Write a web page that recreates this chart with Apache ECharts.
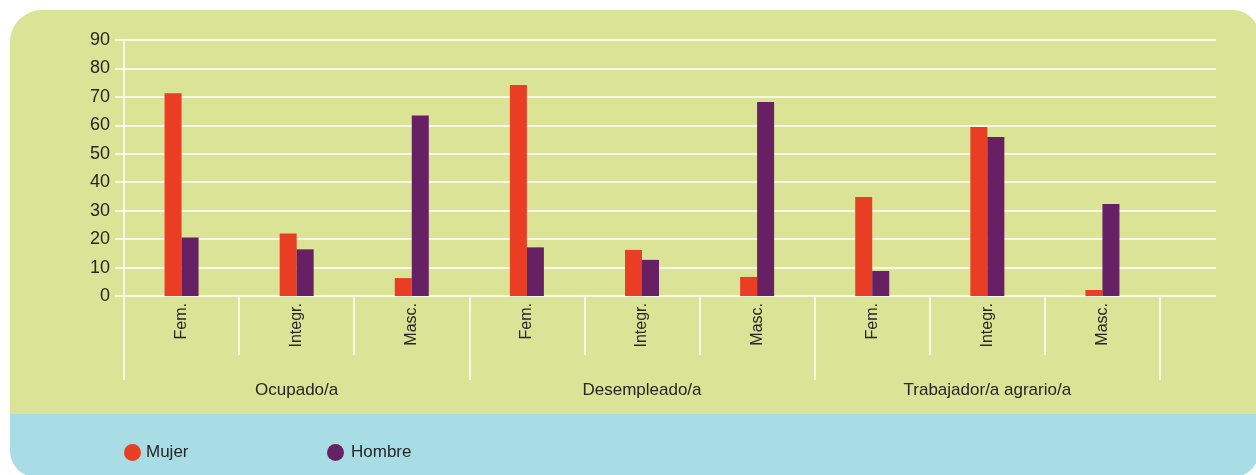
<!DOCTYPE html>
<html>
<head>
<meta charset="utf-8">
<script src="https://cdn.jsdelivr.net/npm/echarts@6/dist/echarts.min.js"></script>
<style>
  html, body { margin: 0; padding: 0; background: #ffffff; overflow: hidden; }
  #wrap { position: relative; width: 1256px; height: 475px; overflow: hidden; }
  #panel {
    position: absolute; left: 10px; top: 9.5px; width: 1249px; height: 467px;
    border-radius: 32px 26px 26px 26px;
    background: linear-gradient(to bottom, #dbe396 0, #dbe396 404px, #a8dde5 404px, #a8dde5 100%);
  }
  #chart { position: absolute; left: 0; top: 0; width: 1256px; height: 475px; }
</style>
</head>
<body>
<div id="wrap">
  <div id="panel"></div>
  <div id="chart"></div>
</div>
<script>
// Situación laboral por tipo de ocupación (Fem. / Integr. / Masc.)
const groups = ['Ocupado/a', 'Desempleado/a', 'Trabajador/a agrario/a'];
const subCategories = ['Fem.', 'Integr.', 'Masc.', 'Fem.', 'Integr.', 'Masc.', 'Fem.', 'Integr.', 'Masc.'];
const mujer  = [71.3, 22.0, 6.3, 74.2, 16.2, 6.7, 34.8, 59.4, 2.1];
const hombre = [20.6, 16.4, 63.5, 17.1, 12.7, 68.2, 8.8, 55.9, 32.3];
const seriesNames = ['Mujer', 'Hombre'];
const yMin = 0, yMax = 90, yStep = 10;

const FONT = '"Liberation Sans", Arial, sans-serif';
const TEXT = '#262626';
const RED = '#e93e24';
const PURPLE = '#672063';
const LINE = '#ffffff';

const chart = echarts.init(document.getElementById('chart'), null, { renderer: 'canvas' });

chart.setOption({
  backgroundColor: 'transparent',
  animation: false,
  grid: [
    // full-width grid carrying the value axis and its gridlines
    { left: 124, right: 40, top: 40, bottom: 179, containLabel: false },
    // category grid carrying the bars and the two-level axis
    { left: 124, right: 96, top: 40, bottom: 179, containLabel: false }
  ],
  legend: [
    {
      data: [seriesNames[0]], left: 119, top: 439, itemWidth: 17, itemHeight: 17, icon: 'circle',
      textStyle: { fontFamily: FONT, fontSize: 17, color: TEXT }
    },
    {
      data: [seriesNames[1]], left: 322, top: 439, itemWidth: 17, itemHeight: 17, icon: 'circle',
      textStyle: { fontFamily: FONT, fontSize: 17, color: TEXT, padding: [0, 0, 0, 2] }
    }
  ],
  xAxis: [
    { gridIndex: 0, type: 'category', data: [''], show: false },
    {
      gridIndex: 1, type: 'category', data: subCategories, position: 'bottom',
      axisLine: { show: false },
      axisTick: { show: true, length: 59, lineStyle: { color: LINE, width: 1.5 } },
      axisLabel: {
        rotate: 90, margin: 7, interval: 0,
        fontFamily: FONT, fontSize: 16, color: TEXT
      },
      splitLine: { show: false }
    },
    {
      gridIndex: 1, type: 'category', data: groups, position: 'bottom',
      axisLine: { show: false },
      axisTick: { show: true, length: 84, lineStyle: { color: LINE, width: 1.5 } },
      axisLabel: { margin: 86, interval: 0, fontFamily: FONT, fontSize: 17, color: TEXT },
      splitLine: { show: false }
    }
  ],
  yAxis: [
    {
      gridIndex: 0, type: 'value', min: yMin, max: yMax, interval: yStep,
      axisLine: { show: true, lineStyle: { color: LINE, width: 1.5 } },
      axisTick: { show: true, length: 9, lineStyle: { color: LINE, width: 1.5 } },
      axisLabel: { margin: 14, fontFamily: FONT, fontSize: 18, color: TEXT },
      splitLine: { show: true, lineStyle: { color: LINE, width: 1.5 } }
    },
    { gridIndex: 1, type: 'value', min: yMin, max: yMax, interval: yStep, show: false, splitLine: { show: false } }
  ],
  series: [
    {
      name: seriesNames[0], type: 'bar', xAxisIndex: 1, yAxisIndex: 1,
      data: mujer, barWidth: 17, barGap: '0%',
      itemStyle: { color: RED }
    },
    {
      name: seriesNames[1], type: 'bar', xAxisIndex: 1, yAxisIndex: 1,
      data: hombre, barWidth: 17, barGap: '0%',
      itemStyle: { color: PURPLE }
    }
  ]
});
</script>
</body>
</html>
